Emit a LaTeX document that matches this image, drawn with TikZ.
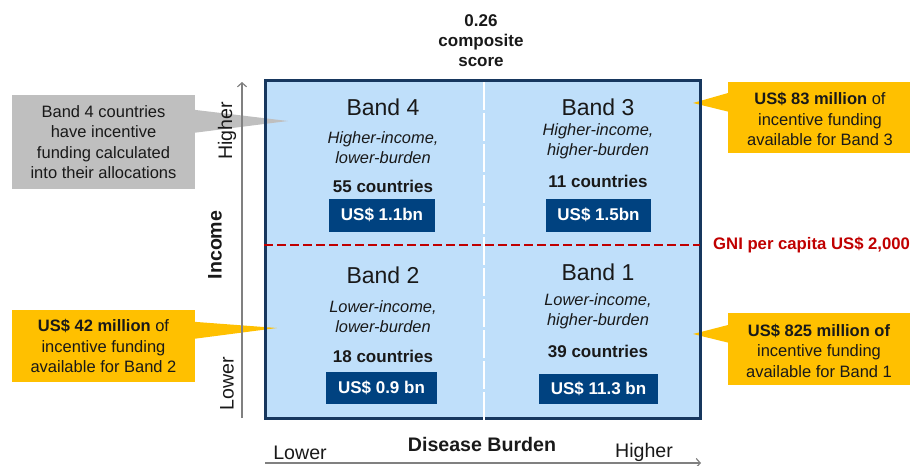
\documentclass[tikz,border=0pt]{standalone}
\usepackage{fontspec}
\setmainfont{Liberation Sans}
\usetikzlibrary{arrows.meta,calc}
\definecolor{boxblue}{RGB}{191,223,250}
\definecolor{navyedge}{RGB}{23,55,94}
\definecolor{navyfill}{RGB}{0,66,128}
\definecolor{gold}{RGB}{255,192,0}
\definecolor{calgray}{RGB}{191,191,191}
\definecolor{gnired}{RGB}{192,0,0}
\definecolor{axisgray}{RGB}{128,128,128}
\definecolor{txt}{RGB}{25,25,25}
\tikzset{
  bandtitle/.style={font=\fontsize{23}{27}\selectfont, inner sep=0pt, text=txt},
  bandsub/.style={font=\itshape\fontsize{16.4}{20}\selectfont, align=center, inner sep=0pt, text=txt},
  countlbl/.style={font=\bfseries\fontsize{17}{20}\selectfont, inner sep=0pt, text=txt},
  money/.style={fill=navyfill, text=white, font=\bfseries\fontsize{17}{20}\selectfont, inner sep=0pt},
  calltext/.style={font=\fontsize{16.5}{20.5}\selectfont, align=center, inner sep=0pt, text=txt},
  axislbl/.style={font=\fontsize{19.6}{23}\selectfont, inner sep=0pt, text=txt},
  axisline/.style={draw=axisgray, line width=1.6pt, -{Straight Barb[length=4pt,width=9pt,line width=1.2pt]}},
}
\begin{document}
\begin{tikzpicture}[x=1pt,y=-1pt]
\useasboundingbox (0,0) rectangle (916,466);

% main grid box (fill)
\node[fill=boxblue, minimum width=434.5pt, minimum height=338pt, inner sep=0pt] (grid) at (482.75,249.5) {};

% callout: Band 4 (gray)
\node[fill=calgray, minimum width=183pt, minimum height=94pt, inner sep=0pt] (c4) at (103.5,142) {};
\coordinate (t4) at (288,121);
\fill[calgray] ($(c4.north east)+(-1,15)$) -- (t4) -- ($(c4.north east)+(-1,38)$) -- cycle;
\node[calltext] (c4t) at (c4.center) {Band 4 countries\\have incentive\\funding calculated\\into their allocations};

% callout: Band 2 (yellow, left)
\node[fill=gold, minimum width=183pt, minimum height=72pt, inner sep=0pt] (c2) at (103.5,346) {};
\coordinate (t2) at (277,328);
\fill[gold] ($(c2.north east)+(-1,12)$) -- (t2) -- ($(c2.north east)+(-1,29)$) -- cycle;
\node[calltext] (c2t) at (c2.center) {\textbf{US\$ 42 million} of\\incentive funding\\available for Band 2};

% callout: Band 3 (yellow, right top)
\node[fill=gold, minimum width=182pt, minimum height=71pt, inner sep=0pt] (c3) at (819,117.5) {};
\coordinate (t3) at (693,103);
\fill[gold] ($(c3.north west)+(1,11)$) -- (t3) -- ($(c3.north west)+(1,30)$) -- cycle;
\node[calltext] (c3t) at (820,119) {\textbf{US\$ 83 million} of\\incentive funding\\available for Band 3};

% callout: Band 1 (yellow, right bottom)
\node[fill=gold, minimum width=182pt, minimum height=72pt, inner sep=0pt] (c1) at (819,349) {};
\coordinate (t1) at (693,334);
\fill[gold] ($(c1.north west)+(1,12)$) -- (t1) -- ($(c1.north west)+(1,30)$) -- cycle;
\node[calltext] (c1t) at (819,350.5) {\textbf{US\$ 825 million of}\\incentive funding\\available for Band 1};

% grid border
\draw[navyedge, line width=3pt] (grid.south west) rectangle (grid.north east);

% dividers
\coordinate (divT) at (483.5,82);
\coordinate (divB) at (483.5,420);
\draw[white, line width=2pt, dash pattern=on 28pt off 3pt] (divT) -- (divB);
\coordinate (gniL) at (264,245);
\coordinate (gniR) at (700,245);
\draw[gnired, line width=2.5pt, dash pattern=on 9pt off 4pt] (gniL) -- (gniR);
\node[anchor=west, inner sep=0pt, text=gnired, font=\bfseries\fontsize{16.7}{20}\selectfont] (gni) at (713,245) {GNI per capita US\$ 2,000};

% top label
\node[font=\bfseries\fontsize{17}{20}\selectfont, align=center, inner sep=0pt, text=txt] (score) at (481,40.5) {0.26\\composite\\score};

% Band 4
\node[bandtitle] (b4) at (383,107) {Band 4};
\node[bandsub] (s4) at (383,147.5) {Higher-income,\\lower-burden};
\node[countlbl] (n4) at (383,186) {55 countries};
\node[money, minimum width=106pt, minimum height=33pt] (m4) at (382,215) {US\$ 1.1bn};

% Band 3
\node[bandtitle] (b3) at (598,107) {Band 3};
\node[bandsub] (s3) at (598,141.5) {Higher-income,\\higher-burden};
\node[countlbl] (n3) at (598,181) {11 countries};
\node[money, minimum width=105pt, minimum height=33pt] (m3) at (598.5,215) {US\$ 1.5bn};

% Band 2
\node[bandtitle] (b2) at (383,275) {Band 2};
\node[bandsub] (s2) at (383,316.5) {Lower-income,\\lower-burden};
\node[countlbl] (n2) at (383,356) {18 countries};
\node[money, minimum width=111pt, minimum height=32pt] (m2) at (381.5,388) {US\$ 0.9 bn};

% Band 1
\node[bandtitle] (b1) at (598,272) {Band 1};
\node[bandsub] (s1) at (598,311) {Lower-income,\\higher-burden};
\node[countlbl] (n1) at (598,351) {39 countries};
\node[money, minimum width=119pt, minimum height=30pt] (m1) at (598.5,389) {US\$ 11.3 bn};

% axes
\coordinate (yB) at (242,418);
\coordinate (yT) at (242,82);
\draw[axisline] (yB) -- (yT);
\node[axislbl, rotate=90] (yhi) at (227,131) {Higher};
\node[axislbl, rotate=90, font=\bfseries\fontsize{19.6}{23}\selectfont] (yinc) at (215,245) {Income};
\node[axislbl, rotate=90] (ylo) at (227,384) {Lower};

\coordinate (xL) at (265,463);
\coordinate (xR) at (701,463);
\draw[axisline] (xL) -- (xR);
\node[axislbl] (xlo) at (300,453) {Lower};
\node[axislbl, font=\bfseries\fontsize{19.6}{23}\selectfont] (xdb) at (482,444) {Disease Burden};
\node[axislbl] (xhi) at (644,452) {Higher};
\end{tikzpicture}
\end{document}
